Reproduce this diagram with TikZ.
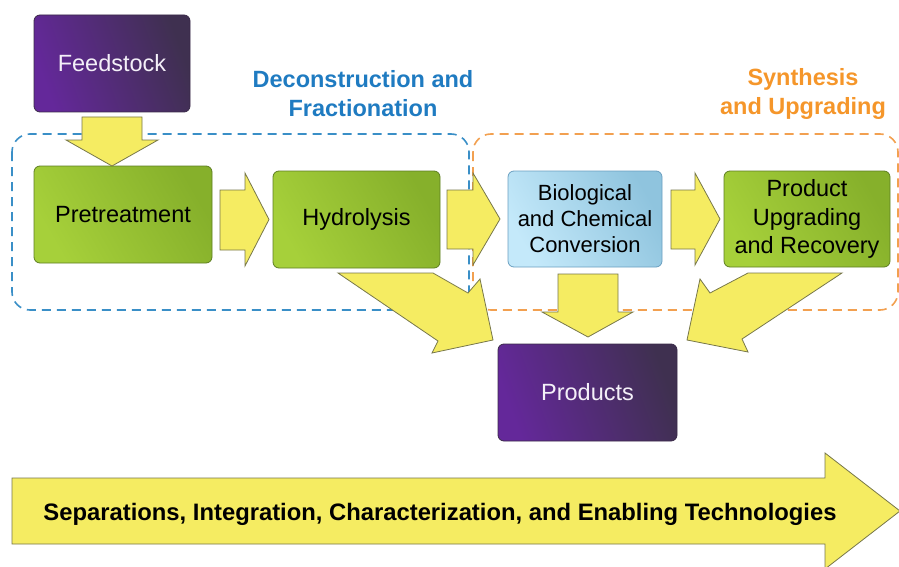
\documentclass[tikz,border=0pt]{standalone}
\usepackage{fontspec}
\setmainfont{Liberation Sans}
\definecolor{arrowfill}{HTML}{F5EC62}
\definecolor{arrowline}{HTML}{77774A}
\definecolor{greenA}{HTML}{A6D03A}
\definecolor{greenB}{HTML}{86B02B}
\definecolor{greenline}{HTML}{5E7E22}
\definecolor{purpA}{HTML}{64289A}
\definecolor{purpB}{HTML}{3F3050}
\definecolor{purpline}{HTML}{3A2A48}
\definecolor{blueA}{HTML}{C4E9FA}
\definecolor{blueB}{HTML}{8FC4DE}
\definecolor{blueline}{HTML}{6A9FC0}
\definecolor{dashblue}{HTML}{3A8FC7}
\definecolor{dashorange}{HTML}{F2A050}
\definecolor{titleblue}{HTML}{1F7BC1}
\definecolor{titleorange}{HTML}{F5962A}
\begin{document}
\begin{tikzpicture}[x=1pt,y=-1pt,
  boxbase/.style={rounded corners=6pt, line width=0.8pt, inner sep=0pt, align=center,
    font=\fontsize{23.5}{28.5}\selectfont},
  greenbox/.style={boxbase, draw=greenline, left color=greenA, right color=greenB, shading angle=120, text=black},
  purplebox/.style={boxbase, draw=purpline, left color=purpA, right color=purpB, shading angle=110, text=white!93!purpA},
  bluebox/.style={boxbase, draw=blueline, left color=blueA, right color=blueB, shading angle=120, text=black,
    font=\fontsize{22}{26}\selectfont},
  blockarrow/.style={fill=arrowfill, draw=arrowline, line width=0.8pt, line join=miter},
  phase/.style={dashed, dash pattern=on 9pt off 6pt, line width=1.6pt, rounded corners=18pt},
  title/.style={align=center, font=\fontsize{23.5}{29}\selectfont\bfseries}
]
\useasboundingbox (0,0) rectangle (899,567);

% phase frames
\draw[phase, draw=dashblue] (12,134) rectangle (469,310);
\draw[phase, draw=dashorange] (473,134) rectangle (898,310);

% process boxes
\node[purplebox, minimum width=156pt, minimum height=97pt] (feed) at (112,63.5) {Feedstock};
\node[greenbox, minimum width=178pt, minimum height=97pt] (pre) at (123,214.5) {Pretreatment};
\node[greenbox, minimum width=167pt, minimum height=97pt] (hyd) at (356.5,219.5) {Hydrolysis};
\node[bluebox, minimum width=154pt, minimum height=96pt] (bcc) at (585,219) {Biological\\and Chemical\\Conversion};
\node[greenbox, minimum width=166pt, minimum height=96pt] (pur) at (807,219) {Product\\Upgrading\\and Recovery};
\node[purplebox, minimum width=179pt, minimum height=97pt] (prod) at (587.5,392.5) {Products};

% block arrows between the boxes
\draw[blockarrow] (82,117) -- (142,117) -- (142,140) -- (158,140) -- (112,166) -- (66,140) -- (82,140) -- cycle;
\draw[blockarrow] (220,190) -- (245,190) -- (245,173) -- (269,219.5) -- (245,266) -- (245,250) -- (220,250) -- cycle;
\draw[blockarrow] (447,190) -- (473,190) -- (473,173) -- (500,219) -- (473,265) -- (473,249) -- (447,249) -- cycle;
\draw[blockarrow] (671,190) -- (695,190) -- (695,173) -- (720,219) -- (695,265) -- (695,249) -- (671,249) -- cycle;
\draw[blockarrow] (558,274) -- (618,274) -- (618,312) -- (633,312) -- (588,337) -- (542,312) -- (558,312) -- cycle;
\draw[blockarrow] (338,273) -- (433,273) -- (468,293) -- (480,279) -- (493,340) -- (432,353) -- (438,341) -- cycle;
\draw[blockarrow] (842,273) -- (748,273) -- (710,293) -- (700,279) -- (687,340) -- (748,352) -- (742,339) -- cycle;

% titles
\node[title, text=titleblue] (dtitle) at (363,94) {Deconstruction and\\Fractionation};
\node[title, text=titleorange] (stitle) at (803,94) {Synthesis\\and Upgrading};

% bottom arrow
\draw[blockarrow] (12,478) -- (825,478) -- (825,453) -- (900,511) -- (825,569) -- (825,544) -- (12,544) -- cycle;
\node[anchor=base, font=\fontsize{23.8}{28}\selectfont\bfseries] (sep) at (440,520) {Separations, Integration, Characterization, and Enabling Technologies};
\end{tikzpicture}
\end{document}
